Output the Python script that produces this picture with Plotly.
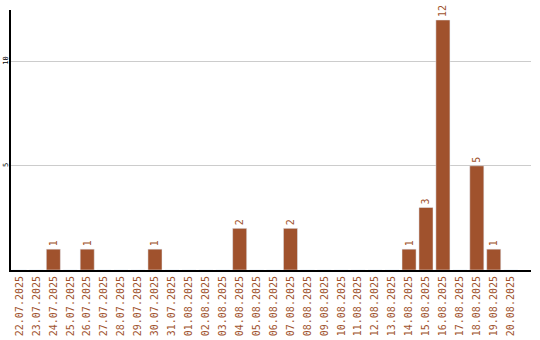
import plotly.graph_objects as go

dates = ["22.07.2025","23.07.2025","24.07.2025","25.07.2025","26.07.2025","27.07.2025",
         "28.07.2025","29.07.2025","30.07.2025","31.07.2025","01.08.2025","02.08.2025",
         "03.08.2025","04.08.2025","05.08.2025","06.08.2025","07.08.2025","08.08.2025",
         "09.08.2025","10.08.2025","11.08.2025","12.08.2025","13.08.2025","14.08.2025",
         "15.08.2025","16.08.2025","17.08.2025","18.08.2025","19.08.2025","20.08.2025"]
counts = [0,0,1,0,1,0,0,0,1,0,0,0,0,2,0,0,2,0,0,0,0,0,0,1,3,12,0,5,1,0]

color = "#A0522D"
font = "DejaVu Sans Mono"

fig = go.Figure(go.Bar(
    x=dates, y=counts, marker_color=color,
    text=[str(c) if c else "" for c in counts],
    textposition="outside", textangle=-90,
    textfont=dict(color=color, size=10, family=font),
    cliponaxis=False,
))
fig.update_layout(
    width=540, height=340,
    margin=dict(l=11, r=9, t=10, b=70),
    paper_bgcolor="white", plot_bgcolor="white",
    bargap=0.17, showlegend=False,
    font=dict(family=font),
)
fig.update_xaxes(
    type="category", range=[-0.5, 30.2], automargin=False,
    tickangle=-90, tickfont=dict(color=color, size=10, family=font),
    showline=True, linecolor="black", linewidth=2, showgrid=False, ticks="",
)
fig.update_yaxes(
    range=[0, 12.48], tickvals=[5, 10], tickangle=-90, automargin=False,
    tickfont=dict(color="black", size=7, family=font), ticklabelstandoff=-2,
    showline=True, linecolor="black", linewidth=2,
    showgrid=True, gridcolor="#cccccc", gridwidth=1, zeroline=False, ticks="",
)
fig.write_html("out.html")
